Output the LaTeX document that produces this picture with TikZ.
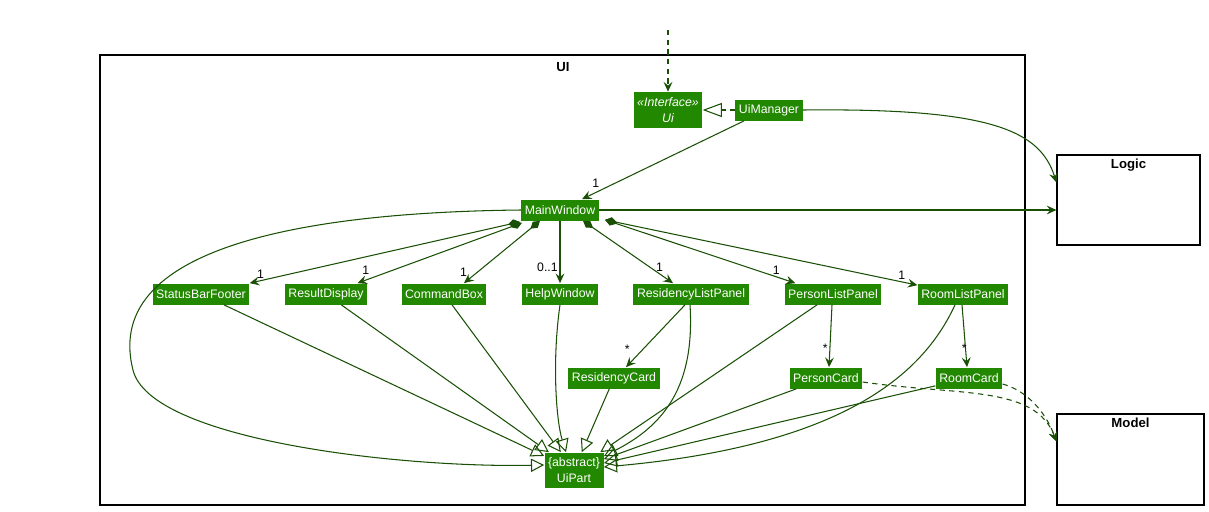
\documentclass[tikz,border=0pt]{standalone}
\usepackage{fontspec}
\setmainfont{Liberation Sans}
\usepackage{xcolor}
\usetikzlibrary{arrows.meta}
\usetikzlibrary{calc}
\definecolor{boxgreen}{RGB}{34,136,0}
\definecolor{linegreen}{RGB}{26,80,6}

\begin{document}
\begin{tikzpicture}[
    x=0.02cm, y=-0.02cm,
    cls/.style={fill=boxgreen, text=white, font=\fontsize{7}{8.6}\selectfont,
                inner xsep=2pt, inner ysep=0pt, minimum height=0.42cm},
    pkgbox/.style={draw=black, line width=0.7pt},
    pkgname/.style={font=\fontsize{7.5}{9}\selectfont\bfseries},
    mult/.style={font=\fontsize{7}{8.4}\selectfont, inner sep=1pt},
    assoc/.style={draw=linegreen, line width=0.6pt, -{Stealth[length=5.5pt,width=5pt,inset=2pt]}},
    comp/.style={draw=linegreen, line width=0.6pt,
                 {Diamond[length=7pt,width=4.5pt]}-{Stealth[length=5.5pt,width=5pt,inset=2pt]}},
    gen/.style={draw=linegreen, line width=0.6pt, -{Triangle[open,length=7.5pt,width=7.5pt]}},
    realize/.style={draw=linegreen, line width=0.6pt, dash pattern=on 3pt off 2pt,
                    -{Triangle[open,length=11pt,width=8pt]}},
    dep/.style={draw=linegreen, line width=0.6pt, dash pattern=on 3pt off 2.5pt,
                -{Stealth[length=5.5pt,width=5pt,inset=2pt]}}
    ]
\useasboundingbox (0,0) rectangle (1209,511);

% package frame
\draw[pkgbox] (100,55) rectangle (1025,505);
\node[pkgname] (uiname) at (563,67) {UI};

\node[pkgbox, minimum width=2.86cm, minimum height=1.8cm,
      label={[pkgname, anchor=north, inner sep=2.5pt]north:Logic}] (logic) at (1128.5,200) {};
\node[pkgbox, minimum width=2.94cm, minimum height=1.82cm,
      label={[pkgname, anchor=north, inner sep=2.5pt]north:Model}] (model) at (1130.5,459.5) {};

% classes
\coordinate (ext) at (668,30);
\node[cls, align=center, minimum height=0.72cm, font=\fontsize{7}{9}\selectfont\itshape] (ui) at (668,110) {«Interface»\\Ui};
\node[cls] (uim) at (769,110) {UiManager};
\node[cls] (mw)  at (560,210) {MainWindow};

\node[cls] (sbf)  at (201,294) {StatusBarFooter};
\node[cls] (rd)   at (326,294) {ResultDisplay};
\node[cls] (cb)   at (444,294) {CommandBox};
\node[cls] (hw)   at (560,294) {HelpWindow};
\node[cls] (rlp)  at (691,294) {ResidencyListPanel};
\node[cls] (plp)  at (833,294) {PersonListPanel};
\node[cls] (rmlp) at (963,294) {RoomListPanel};

\node[cls] (rc)  at (614,378) {ResidencyCard};
\node[cls] (pc)  at (826,378) {PersonCard};
\node[cls] (rmc) at (969,378) {RoomCard};

\node[cls, align=center, minimum height=0.7cm, font=\fontsize{7}{9}\selectfont] (up) at (574,470) {\{abstract\}\\UiPart};

% connectors
\path (ext) edge[dep] (ui);
\path (uim.west) edge[realize] (ui.east);
\path ($(uim.south west)+(9,0)$) edge[assoc] node[mult, pos=0.88, above left] {1} ($(mw.north)+(22,0)$);
\draw[assoc] (uim.east) .. controls (990,108) and (1040,130) .. ($(logic.north west)+(0,28)$);
\path (mw.east) edge[assoc] (mw.east -| logic.west);

\path ($(mw.south west)+(-1,1)$) edge[comp] node[mult, pos=0.96, above] {1} (sbf.north east);
\path ($(mw.south west)+(1,2)$) edge[comp] node[mult, pos=0.95, above=2pt] {1} ($(rd.north east)+(-10,0)$);
\path ($(mw.south)+(-20,0)$) edge[comp] node[mult, pos=0.93, above left] {1} ($(cb.north)+(20,0)$);
\path (mw.south) edge[assoc] node[mult, pos=0.75, left] {0..1} (hw.north);
\path ($(mw.south)+(23,0)$) edge[comp] node[mult, pos=0.85, above] {1} ($(rlp.north)+(-18,0)$);
\path ($(mw.south east)+(6,-1)$) edge[comp] node[mult, pos=0.9, above] {1} ($(plp.north west)+(11,0)$);
\path ($(mw.south east)+(6,-1)$) edge[comp] node[mult, pos=0.95, above] {1} ($(rmlp.north west)+(0,2)$);

\path ($(rlp.south)+(-6,0)$) edge[assoc] node[mult, pos=0.72, left=6pt] {*} ($(rc.north)+(12,0)$);
\path ($(plp.south)+(-1,0)$) edge[assoc] node[mult, pos=0.69, left] {*} ($(pc.north)+(3,0)$);
\path ($(rmlp.south)+(-1,0)$) edge[assoc] node[mult, pos=0.7, left=-2pt] {*} ($(rmc.north)+(-2,0)$);

\draw[dep] ($(pc.east)+(0,4)$) .. controls (960,396) and (1035,385) .. ($(model.north west)+(0,28)$);
\draw[dep] ($(rmc.east)+(0,6)$) .. controls (1025,390) and (1045,410) .. ($(model.north west)+(0,28)$);

% generalisations
\draw[gen] (mw.west) .. controls (330,212) and (100,240) .. (133,370)
           .. controls (150,440) and (400,468) .. ($(up.west)+(0,-5)$);
\path (sbf) edge[gen] (up);
\path (rd) edge[gen] (up);
\path (cb) edge[gen] (up);
\draw[gen] (hw.south) .. controls (552,360) and (556,420) .. ($(up.north)+(-8,0)$);
\path (rc) edge[gen] (up);
\draw[gen] ($(rlp.south)+(-1,0)$) .. controls (695,385) and (665,425) .. ($(up.north east)+(0,4)$);
\path (plp) edge[gen] (up);
\path (pc) edge[gen] (up);
\path (rmc) edge[gen] (up);
\draw[gen] ($(rmlp.south)+(-8,0)$) .. controls (925,370) and (850,445) .. ($(up.east)+(0,-3)$);
\end{tikzpicture}
\end{document}
